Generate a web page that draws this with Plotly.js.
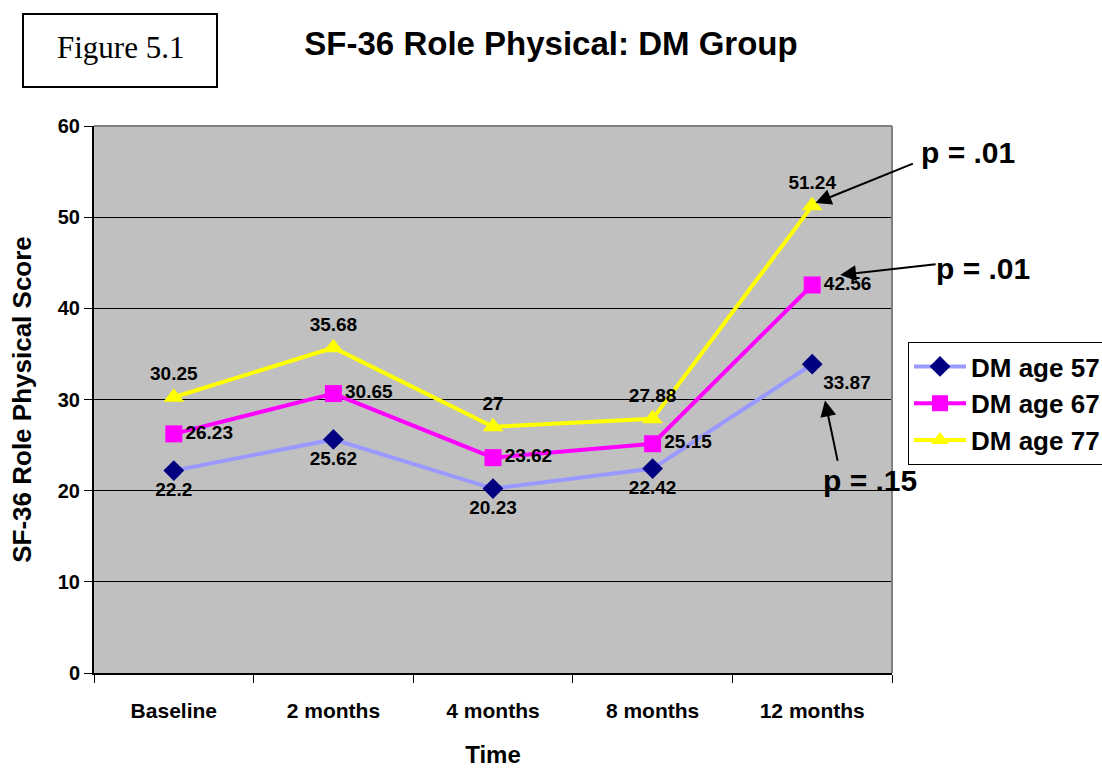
<!DOCTYPE html>
<html>
<head>
<meta charset="utf-8">
<script src="https://cdn.plot.ly/plotly-3.0.1.min.js"></script>
<style>html,body{margin:0;padding:0;background:#fff;}#chart{width:1102px;height:768px;}</style>
</head>
<body>
<div id="chart"></div>
<script>
const categories = ["Baseline", "2 months", "4 months", "8 months", "12 months"];
const seriesNames = ["DM age 57", "DM age 67", "DM age 77"];
const age57 = [22.2, 25.62, 20.23, 22.42, 33.87];
const age67 = [26.23, 30.65, 23.62, 25.15, 42.56];
const age77 = [30.25, 35.68, 27, 27.88, 51.24];
const yTicks = [0, 10, 20, 30, 40, 50, 60];

const F = "Liberation Sans, Arial, sans-serif";
const lblFont = {family: F, size: 19, color: "#000", weight: "bold"};

function fmt(v){ return String(v); }

const traces = [
  {
    x: categories, y: age57, name: seriesNames[0], type: "scatter", mode: "lines+markers+text",
    line: {color: "#9999ff", width: 4},
    marker: {symbol: "diamond", size: 16, color: "#000080"},
    text: age57.map(fmt), textposition: ["bottom center","bottom center","bottom center","bottom center","bottom right"],
    textfont: lblFont, legendgroup: "a", cliponaxis: false
  },
  {
    x: categories, y: age67, name: seriesNames[1], type: "scatter", mode: "lines+markers+text",
    line: {color: "#ff00ff", width: 4},
    marker: {symbol: "square", size: 17, color: "#ff00ff"},
    text: age67.map(fmt), textposition: "middle right",
    textfont: lblFont, legendgroup: "b", cliponaxis: false
  },
  {
    x: categories, y: age77, name: seriesNames[2], type: "scatter", mode: "lines+markers+text",
    line: {color: "#ffff00", width: 4},
    marker: {symbol: "triangle-up", size: 18, color: "#ffff00"},
    text: age77.map(fmt), textposition: "top center",
    textfont: lblFont, legendgroup: "c", cliponaxis: false
  }
];

const pFont = {family: F, size: 30, color: "#000", weight: "bold"};

const layout = {
  width: 1102, height: 768,
  margin: {l: 94, r: 210, t: 126, b: 95, autoexpand: false},
  paper_bgcolor: "#ffffff",
  plot_bgcolor: "#c0c0c0",
  showlegend: true,
  title: {
    text: "SF-36 Role Physical: DM Group",
    font: {family: F, size: 33, color: "#000", weight: "bold"},
    x: 0.5, xref: "container", xanchor: "center",
    y: 1 - 43/768, yref: "container", yanchor: "middle"
  },
  xaxis: {
    type: "category", range: [-0.5, 4.5],
    showgrid: false, zeroline: false,
    showline: true, linecolor: "#000", linewidth: 2,
    ticks: "outside", tickson: "boundaries", ticklen: 8, tickcolor: "#000", tickwidth: 1,
    tickfont: {family: F, size: 21, color: "#000", weight: "bold"},
    ticklabelstandoff: 18,
    title: {text: "Time", font: {family: F, size: 24, color: "#000", weight: "bold"}, standoff: 29}
  },
  yaxis: {
    range: [0, 60], tickvals: yTicks, ticktext: yTicks.map(String),
    showgrid: true, gridcolor: "#000", gridwidth: 1, zeroline: false,
    showline: true, linecolor: "#000", linewidth: 2,
    ticks: "outside", ticklen: 8, tickcolor: "#000", tickwidth: 1,
    tickfont: {family: F, size: 20, color: "#000", weight: "bold"},
    title: {text: "SF-36 Role Physical Score", font: {family: F, size: 26, color: "#000", weight: "bold"}, standoff: 19}
  },
  legend: {
    x: (908-94)/798, xanchor: "left", y: (673-342)/547, yanchor: "top",
    bgcolor: "#ffffff", bordercolor: "#000", borderwidth: 1,
    font: {family: F, size: 26, color: "#000", weight: "bold"},
    traceorder: "grouped", tracegroupgap: 0, itemwidth: 52
  },
  shapes: [
    {type: "line", xref: "paper", yref: "paper", x0: 0, x1: 1, y0: 1, y1: 1, line: {color: "#808080", width: 2}},
    {type: "line", xref: "paper", yref: "paper", x0: 1, x1: 1, y0: 0, y1: 1, line: {color: "#808080", width: 2}},
    {type: "rect", xref: "paper", yref: "paper", x0: (23-94)/798, x1: (217-94)/798, y0: (673-87)/547, y1: (673-14)/547, line: {color: "#000", width: 2}, fillcolor: "rgba(0,0,0,0)"}
  ],
  annotations: [
    {xref: "paper", yref: "paper", x: (120-94)/798, y: (673-48)/547, text: "Figure 5.1", showarrow: false,
     font: {family: "Liberation Serif, Times New Roman, serif", size: 31, color: "#000"}, xanchor: "center", yanchor: "middle"},
    {xref: "x", yref: "y", x: 4.02, y: 51.55, ax: 99, ay: -40, axref: "pixel", ayref: "pixel", text: "", showarrow: true,
     arrowhead: 2, arrowsize: 1.6, arrowwidth: 2, arrowcolor: "#000"},
    {xref: "x", yref: "y", x: 4.175, y: 43.66, ax: 97, ay: -11, text: "", showarrow: true,
     arrowhead: 2, arrowsize: 1.6, arrowwidth: 2, arrowcolor: "#000"},
    {xref: "x", yref: "y", x: 4.08, y: 29.9, ax: 13, ay: 62, text: "", showarrow: true,
     arrowhead: 2, arrowsize: 1.6, arrowwidth: 2, arrowcolor: "#000"},
    {xref: "paper", yref: "paper", x: (968-94)/798, y: (673-152)/547, text: "p = .01", showarrow: false, font: pFont, xanchor: "center", yanchor: "middle"},
    {xref: "paper", yref: "paper", x: (983-94)/798, y: (673-268)/547, text: "p = .01", showarrow: false, font: pFont, xanchor: "center", yanchor: "middle"},
    {xref: "paper", yref: "paper", x: (870-94)/798, y: (673-480)/547, text: "p = .15", showarrow: false, font: pFont, xanchor: "center", yanchor: "middle"}
  ]
};

Plotly.newPlot("chart", traces, layout, {displayModeBar: false, staticPlot: true});
</script>
</body>
</html>
